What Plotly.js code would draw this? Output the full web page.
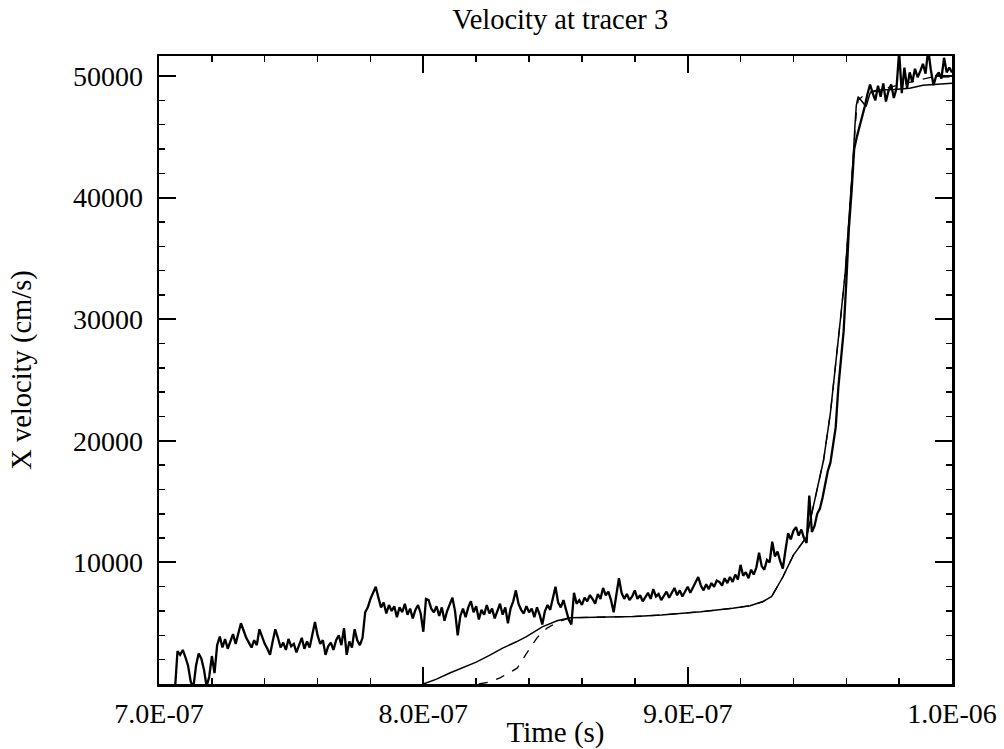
<!DOCTYPE html>
<html><head><meta charset="utf-8">
<script src="https://cdn.plot.ly/plotly-3.0.1.min.js"></script>
<style>html,body{margin:0;padding:0;background:#fff}#chart{width:1004px;height:749px}</style>
</head><body><div id="chart"></div>
<script>
// Measured (noisy) velocity, sampled every 1 ns starting at 706 ns
const measStartNs = 706;
const measStepNs = 1;
const measVel = [
-600, 2700, 2400, 2800, 2200, 1500, 200, -300, 1500, 2500,
2100, 1200, -200, 600, 2300, 900, 3200, 3900, 3000, 3700,
2900, 3500, 4100, 3300, 4200, 5000, 4400, 3800, 3400, 3000,
3600, 3200, 4500, 3900, 3300, 2900, 2400, 3500, 4500, 3800,
3000, 3400, 2800, 3700, 3100, 3300, 2600, 3200, 3800, 2900,
3500, 3000, 4100, 5100, 4000, 3300, 3600, 2400, 3100, 3400,
2800, 3600, 4000, 3200, 4600, 2400, 3500, 3000, 4500, 3600,
3200, 3800, 5900, 6300, 7000, 7500, 8000, 7100, 6300, 6700,
5800, 6500, 6000, 6400, 5500, 6300, 5900, 6600, 5700, 6200,
5400, 6100, 6500, 5800, 4300, 7000, 6900, 6200, 5900, 6400,
5600, 6300, 5200, 6000, 6500, 7100, 6000, 4000, 5600, 6200,
5500, 6300, 6800, 5900, 6400, 5300, 6100, 5700, 6500, 5800,
6200, 5400, 6000, 6600, 5700, 6300, 5000, 6200, 6800, 7700,
6600, 6100, 5800, 6400, 5900, 6200, 5500, 6300, 5700, 4900,
6000, 6500, 6100, 7000, 8000, 6700, 6300, 6900, 6000, 5300,
4900, 7500, 6600, 6900, 6500, 7100, 6800, 7300, 7000, 6600,
7400, 7000, 7900, 7300, 7600, 6900, 5900, 7200, 8700, 7500,
7000, 7400, 6900, 7200, 7700, 7000, 7300, 6800, 7100, 7500,
7000, 7800, 7200, 7400, 6900, 7300, 7600, 7100, 7500, 7900,
7300, 7700, 7200, 7600, 8000, 7500, 7900, 8300, 8800, 8100,
7700, 8200, 7800, 8300, 8000, 8500, 8400, 8100, 8700, 8300,
8800, 8400, 9000, 8600, 9800, 8900, 9200, 8700, 9400, 9000,
9600, 10800, 9700, 9400, 10200, 10000, 11700, 10500, 10900, 10100,
9500, 11000, 12400, 11900, 12600, 12900, 12200, 12700, 12000, 11600,
15500, 12500, 13000, 14000, 14400, 15300, 16500, 17500, 18200, 19800,
21100, 24400, 26500, 29000, 33000, 37500, 40500, 44000, 45000, 45800,
46600, 47500, 48500, 49300, 48600, 48000, 49200, 48300, 49400, 47900,
48800, 49300, 48200, 49000, 52000, 48600, 50700, 49000, 50300, 49500,
50600, 49900, 50400, 51000, 50200, 52200, 50500, 49250, 50000, 50300,
49800, 51500, 50300, 50700, 50300
];

// Simulation 1 (solid)
const simTimeNs = [800, 805, 810, 815, 820, 825, 830, 835, 839, 845, 850.6, 855.5, 860, 867, 880, 890, 900, 905, 917, 923.6, 928.5, 931.8, 936, 940, 945, 949, 951.4, 954, 956, 957.8, 959.6, 960.7, 961.8, 962.6, 963.3, 963.8, 964.5, 965.5, 967.5, 969, 972, 978, 984, 989, 995, 1000];
const simVel    = [0, 400, 900, 1350, 1800, 2350, 2950, 3450, 3900, 4700, 5200, 5450, 5460, 5470, 5560, 5680, 5820, 5950, 6230, 6430, 6780, 7200, 8800, 10600, 12100, 16000, 18400, 22300, 26100, 30000, 33800, 37100, 40000, 43200, 46000, 47600, 48300, 48000, 47500, 48600, 48850, 48900, 49000, 49250, 49350, 49400];

// Simulation 2 (dashed)
const sim2TimeNs = [821, 825, 829, 832, 835.5, 839, 843, 846.8, 851, 855.5, 860, 867, 880, 890, 900, 905, 917, 923.6, 928.5, 931.8, 936, 940, 945, 949, 951.4, 954, 956, 957.8, 959.6, 960.7, 961.8, 962.6, 963.3, 963.8, 964.5, 966, 969, 975, 985, 992, 1000];
const sim2Vel    = [0, 150, 500, 850, 1300, 2500, 3800, 4600, 5100, 5450, 5460, 5470, 5560, 5680, 5820, 5950, 6230, 6430, 6780, 7200, 8800, 10600, 12100, 16000, 18400, 22300, 26100, 30000, 33800, 37100, 40000, 43000, 45500, 47000, 48000, 48300, 48700, 49000, 49500, 49900, 49950];

const xTickVals = [700, 800, 900, 1000];
const xTickText = ['7.0E-07', '8.0E-07', '9.0E-07', '1.0E-06'];
const yTickVals = [10000, 20000, 30000, 40000, 50000];
const yTickText = ['10000', '20000', '30000', '40000', '50000'];

const measTimeNs = measVel.map((_, i) => measStartNs + i * measStepNs);

const FONT = '"Liberation Serif", "Times New Roman", Times, serif';

const traces = [
  {x: measTimeNs, y: measVel, type: 'scatter', mode: 'lines', line: {color: '#000', width: 2.3}, showlegend: false},
  {x: sim2TimeNs, y: sim2Vel, type: 'scatter', mode: 'lines', line: {color: '#000', width: 1.3, dash: 'dash'}, showlegend: false},
  {x: simTimeNs, y: simVel, type: 'scatter', mode: 'lines', line: {color: '#000', width: 1.5}, showlegend: false}
];

const axisCommon = {
  ticks: 'inside', tickwidth: 2, tickcolor: '#000',
  showline: true, linewidth: 2.5, linecolor: '#000', mirror: 'ticks',
  showgrid: false, zeroline: false,
  tickfont: {family: FONT, size: 28, color: '#000'}
};

const layout = {
  width: 1004, height: 749,
  paper_bgcolor: '#fff', plot_bgcolor: '#fff',
  margin: {l: 159, r: 52, t: 56, b: 65},
  font: {family: FONT, color: '#000'},
  title: {text: 'Velocity at tracer 3', font: {family: FONT, size: 28.5, color: '#000'}, x: 0.558, xanchor: 'center', y: 0.974, yanchor: 'middle', yref: 'container'},
  xaxis: Object.assign({}, axisCommon, {
    range: [700, 1000], tickvals: xTickVals, ticktext: xTickText, ticklen: 17,
    ticklabelstandoff: 3,
    minor: {dtick: 20, tick0: 700, ticks: 'inside', ticklen: 6, tickwidth: 1.5, tickcolor: '#000', showgrid: false},
    title: {text: 'Time (s)', font: {family: FONT, size: 29, color: '#000'}, standoff: 0}
  }),
  yaxis: Object.assign({}, axisCommon, {
    range: [0, 51650], tickvals: yTickVals, ticktext: yTickText, ticklen: 17,
    ticklabelstandoff: 8,
    minor: {dtick: 2000, tick0: 0, ticks: 'inside', ticklen: 6, tickwidth: 1.5, tickcolor: '#000', showgrid: false},
    title: {text: 'X velocity (cm/s)', font: {family: FONT, size: 28.5, color: '#000'}, standoff: 33}
  })
};

Plotly.newPlot('chart', traces, layout, {displayModeBar: false, staticPlot: true});
</script>
</body></html>
